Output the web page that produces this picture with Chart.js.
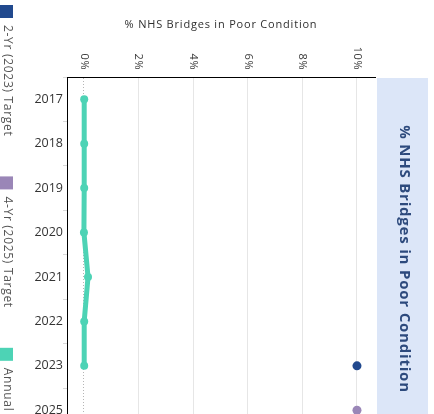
<!DOCTYPE html>
<html>
<head>
<meta charset="utf-8">
<script src="https://cdn.jsdelivr.net/npm/chart.js@4.4.0/dist/chart.umd.min.js"></script>
<style>
  html, body { margin: 0; padding: 0; background: #fff; overflow: hidden; }
  #wrap { width: 434px; height: 414px; overflow: hidden; }
</style>
</head>
<body>
<div id="wrap"><canvas id="chart" width="434" height="440"></canvas></div>
<script>
// data
const years = ["2017", "2018", "2019", "2020", "2021", "2022", "2023", "2025"];
const annualValues = [0.01, 0.01, 0.01, 0.0, 0.15, 0.01, 0.01, null];
const target2023 = [null, null, null, null, null, null, 10, null];
const target2025 = [null, null, null, null, null, null, null, 10];
const xTicks = [0, 2, 4, 6, 8, 10];
const axisTitle = "% NHS Bridges in Poor Condition";
const panelTitle = "% NHS Bridges in Poor Condition";

const TEAL = "#4dd3b5";
const NAVY = "#21498e";
const PURPLE = "#9a86b7";

// draws the rotated tick labels, axis title, left legend and right header panel
const decorations = {
  id: "decorations",
  afterDraw(chart) {
    const ctx = chart.ctx;
    const xs = chart.scales.x;
    const area = chart.chartArea;

    // axis title
    ctx.save();
    ctx.fillStyle = "#2f2f2f";
    ctx.font = "11px 'Open Sans'";
    ctx.letterSpacing = "0.8px";
    ctx.textAlign = "center";
    ctx.textBaseline = "middle";
    ctx.fillText(axisTitle, 221, 25);
    ctx.restore();

    // tick labels, rotated clockwise, ending just above the plot
    xs.ticks.forEach(t => {
      const px = xs.getPixelForValue(t.value);
      ctx.save();
      ctx.translate(px, 70);
      ctx.rotate(Math.PI / 2);
      ctx.fillStyle = "#3a3a3a";
      ctx.font = "11px 'Open Sans'";
      ctx.letterSpacing = "0.5px";
      ctx.textAlign = "right";
      ctx.textBaseline = "middle";
      ctx.fillText(t.value + "%", 0, 0);
      ctx.restore();
    });

    // legend down the left edge
    let y = 5;
    chart.data.datasets.forEach(ds => {
      ctx.fillStyle = ds.borderColor;
      ctx.fillRect(0, y, 13, 13);
      y += 20;
      ctx.save();
      ctx.translate(7, y);
      ctx.rotate(Math.PI / 2);
      ctx.fillStyle = "#555";
      ctx.font = "12px 'Open Sans'";
      ctx.letterSpacing = "0.7px";
      ctx.textAlign = "left";
      ctx.textBaseline = "middle";
      ctx.fillText(ds.label, 0, 0);
      const w = ctx.measureText(ds.label).width;
      ctx.restore();
      y += w + 40;
    });

    // header panel on the right
    ctx.fillStyle = "#dce6f8";
    ctx.fillRect(377, area.top + 1, 51, chart.height);
    ctx.save();
    ctx.translate(404, 259);
    ctx.rotate(Math.PI / 2);
    ctx.fillStyle = "#2d4a7d";
    ctx.font = "bold 15px 'Open Sans'";
    ctx.letterSpacing = "0.8px";
    ctx.textAlign = "center";
    ctx.textBaseline = "middle";
    ctx.fillText(panelTitle, 0, 0);
    ctx.restore();
  }
};

new Chart(document.getElementById("chart"), {
  type: "line",
  data: {
    labels: years,
    datasets: [
      {
        label: "2-Yr (2023) Target",
        data: target2023,
        showLine: false,
        borderColor: NAVY,
        backgroundColor: NAVY,
        pointRadius: 4.5,
        pointBorderWidth: 0
      },
      {
        label: "4-Yr (2025) Target",
        data: target2025,
        showLine: false,
        borderColor: PURPLE,
        backgroundColor: PURPLE,
        pointRadius: 4.5,
        pointBorderWidth: 0
      },
      {
        label: "Annual",
        data: annualValues,
        borderColor: TEAL,
        backgroundColor: TEAL,
        borderWidth: 5,
        pointRadius: 4,
        pointBorderWidth: 0,
        tension: 0,
        spanGaps: false
      }
    ]
  },
  options: {
    responsive: false,
    animation: false,
    indexAxis: "y",
    layout: { padding: { left: 0, top: 0, right: 59, bottom: 4 } },
    plugins: { legend: { display: false }, tooltip: { enabled: false } },
    scales: {
      x: {
        type: "linear",
        position: "top",
        min: -0.62,
        max: 10.66,
        afterBuildTicks: s => { s.ticks = xTicks.map(v => ({ value: v })); },
        afterFit: s => { s.height = 77; },
        ticks: { display: false },
        grid: {
          drawTicks: false,
          color: c => (c.tick && c.tick.value === 0 ? "#b5b5b5" : "#e6e6e6"),
          lineWidth: 1
        },
        border: {
          color: "#000",
          width: 1,
          dash: c => (c.tick && c.tick.value === 0 ? [1, 2] : [])
        }
      },
      y: {
        type: "category",
        offset: true,
        afterFit: s => { s.width = 67; },
        ticks: {
          padding: 0,
          color: "#333",
          font: { family: "'Open Sans'", size: 12.5 }
        },
        grid: {
          offset: true,
          drawOnChartArea: false,
          drawTicks: true,
          tickLength: 4,
          color: "#d8d8d8"
        },
        border: { color: "#000", width: 1 }
      }
    }
  },
  plugins: [decorations]
});
</script>
</body>
</html>
